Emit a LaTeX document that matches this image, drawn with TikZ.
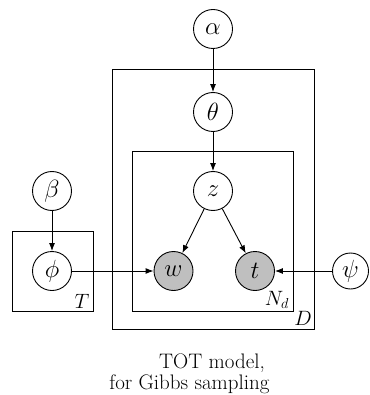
\documentclass[tikz,border=0pt]{standalone}
\usetikzlibrary{arrows.meta}
\begin{document}
\begin{tikzpicture}[x=1pt,y=-1pt,
  var/.style={circle,draw,line width=0.9pt,minimum size=39pt,inner sep=0pt,font=\fontsize{29}{32}\selectfont},
  obs/.style={var,fill=black!25},
  plate/.style={draw,line width=0.9pt},
  edge/.style={-{Latex[length=8pt,width=6pt]},line width=0.9pt},
  lbl/.style={font=\fontsize{21}{24}\selectfont,inner sep=0pt},
  captext/.style={font=\fontsize{21}{24}\selectfont,inner sep=0pt,anchor=base}]
\useasboundingbox (0,0) rectangle (369,395);
% plates
\draw[plate] (112,69) rectangle (314,329);
\draw[plate] (132,151) rectangle (293,311);
\draw[plate] (12,231) rectangle (93,311);
% nodes
\node[var] (alpha) at (213,29) {$\alpha$};
\node[var] (theta) at (213,112) {$\theta$};
\node[var] (z) at (213,191) {$z$};
\node[obs] (w) at (173.5,271) {$w$};
\node[obs] (t) at (255,271) {$t$};
\node[var] (beta) at (52,191) {$\beta$};
\node[var] (phi) at (52,271) {$\phi$};
\node[var,minimum size=36pt] (psi) at (350.5,271) {$\psi$};
% labels
\node[lbl] (lT) at (82,301) {$T$};
\node[lbl] (lN) at (277,300) {$N_d$};
\node[lbl] (lD) at (303,318) {$D$};
% edges
\draw[edge] (alpha) -- (theta);
\draw[edge] (theta) -- (z);
\draw[edge] (z) -- (w);
\draw[edge] (z) -- (t);
\draw[edge] (beta) -- (phi);
\draw[edge] (phi) -- (w);
\draw[edge] (psi) -- (t);
% caption
\node[captext] (c1) at (212,368) {TOT model,};
\node[captext] (c2) at (189.5,389) {for Gibbs sampling};
\end{tikzpicture}
\end{document}
